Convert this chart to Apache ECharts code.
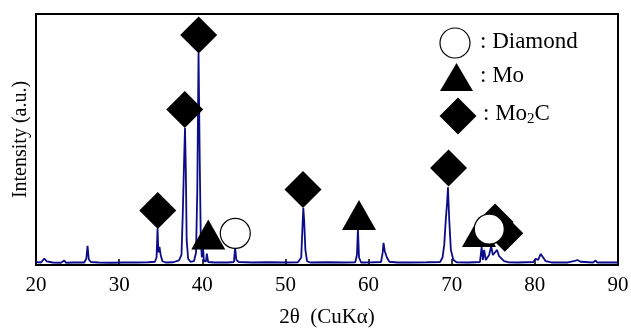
<!DOCTYPE html>
<html>
<head>
<meta charset="utf-8">
<script src="https://cdn.jsdelivr.net/npm/echarts@6/dist/echarts.min.js"></script>
<style>
  html, body { margin: 0; padding: 0; background: #fff; }
  #main { width: 631px; height: 331px; }
</style>
</head>
<body>
<div id="main"></div>
<script>
// XRD pattern: [2theta, intensity (a.u.)]
const spectrum = [
  [20.0,1.2],[20.6,1.0],[21.0,2.6],[21.3,1.4],[22.0,1.0],[23.0,0.9],[23.4,1.8],[23.6,0.9],
  [24.5,1.0],[25.8,1.0],[26.05,2.5],[26.2,7.6],[26.35,2.2],[26.6,1.2],[27.5,1.0],[29,0.9],
  [30.5,1.0],[32,1.0],[33.5,1.1],[34.3,1.3],[34.5,3],[34.62,14.6],[34.72,5],[34.85,7.2],
  [35.0,4],[35.2,1.5],[35.6,1.0],[36.5,1.1],[37.2,1.8],[37.5,4],[37.65,20],[37.8,40],
  [37.92,54.6],[38.02,38],[38.12,10],[38.3,2.5],[38.6,1.2],[39.0,1.5],[39.25,5],[39.4,30],
  [39.55,84.5],[39.7,40],[39.82,10],[39.95,3],[40.1,6.5],[40.2,1.5],[40.45,1.5],[40.55,4.5],
  [40.7,1.2],[41.5,1.0],[43,1.0],[43.8,1.2],[43.95,6.8],[44.1,2],[44.4,1.2],[46,1.0],
  [48,1.1],[50,1.0],[51.5,1.1],[51.9,3],[52.05,15],[52.15,22.7],[52.25,18],[52.4,6],
  [52.6,1.5],[53,1.0],[55,1.1],[57,1.0],[58.4,1.1],[58.6,4],[58.72,14.3],[58.85,3],
  [59.1,1.0],[60.5,1.1],[61.5,1.2],[61.7,5],[61.8,8.8],[61.95,5.5],[62.2,3],[62.5,1.3],
  [63.5,1.0],[65,1.0],[67,1.1],[68.6,1.2],[68.9,3],[69.1,8],[69.3,18.7],[69.45,25],
  [69.55,31],[69.7,18],[69.9,6],[70.2,2],[70.6,1.1],[72,1.0],[73.4,1.2],[73.6,7.2],
  [73.75,2],[73.9,6],[74.1,2],[74.5,4],[74.75,7.5],[74.95,4],[75.2,5],[75.45,6],
  [75.7,3.5],[76.0,2.5],[76.3,1.5],[76.8,1.1],[78,1.0],[79.8,1.2],[80.1,2.5],[80.4,2],
  [80.7,4.4],[81.0,3],[81.3,1.5],[82,1.0],[84,1.0],[84.8,1.6],[85.1,2.0],[85.5,1.3],
  [87,1.0],[87.3,1.8],[87.5,1.0],[89,1.0],[90,1.0]
];

// phase markers placed above the peaks
const mo2cMarks = [[34.64,21.7],[37.89,62.0],[39.57,91.6],[52.11,30.1],[69.62,38.6],[75.21,17.1],[76.39,12.6]];
const moMarks = [[40.72,12.2],[58.85,19.9],[73.28,13.1]];
const diamondMarks = [[43.97,12.6],[74.52,14.3]];

const xTicks = [20, 30, 40, 50, 60, 70, 80, 90];

const serif = '"Liberation Serif", "DejaVu Serif", serif';

const chart = echarts.init(document.getElementById('main'));

chart.setOption({
  animation: false,
  grid: {
    left: 36, right: 13, top: 14, bottom: 66,
    outerBoundsMode: 'none', containLabel: false,
    show: true, borderColor: '#000', borderWidth: 2, backgroundColor: 'transparent'
  },
  xAxis: {
    type: 'value',
    min: xTicks[0], max: xTicks[xTicks.length - 1], interval: 10,
    name: '2θ  (CuKα)',
    nameLocation: 'middle',
    nameGap: 42,
    nameTextStyle: { fontFamily: serif, fontSize: 21, color: '#000' },
    axisLine: { show: true, lineStyle: { color: '#000', width: 2 } },
    axisTick: { show: true, inside: true, length: 6, lineStyle: { color: '#000', width: 1.5 } },
    axisLabel: { fontFamily: serif, fontSize: 21, color: '#000', margin: 10 },
    splitLine: { show: false }
  },
  yAxis: {
    type: 'value',
    min: 0, max: 100,
    name: 'Intensity (a.u.)',
    nameLocation: 'middle',
    nameGap: 5,
    nameTextStyle: { fontFamily: serif, fontSize: 20, color: '#000' },
    axisLine: { show: false },
    axisTick: { show: false },
    axisLabel: { show: false },
    splitLine: { show: false }
  },
  series: [
    {
      type: 'line',
      data: spectrum,
      showSymbol: false,
      lineStyle: { color: '#0c0c8a', width: 1.8 },
      emphasis: { disabled: true },
      z: 2
    },
    {
      type: 'scatter',
      data: mo2cMarks,
      symbol: 'diamond',
      symbolSize: 37,
      itemStyle: { color: '#000', opacity: 1 },
      emphasis: { disabled: true },
      z: 3
    },
    {
      type: 'scatter',
      data: moMarks,
      symbol: 'triangle',
      symbolSize: [34, 30],
      itemStyle: { color: '#000', opacity: 1 },
      emphasis: { disabled: true },
      z: 4
    },
    {
      type: 'scatter',
      data: diamondMarks,
      symbol: 'circle',
      symbolSize: 30,
      itemStyle: { color: '#fff', borderColor: '#000', borderWidth: 1.2, opacity: 1 },
      emphasis: { disabled: true },
      z: 5
    }
  ],
  graphic: [
    { type: 'circle', shape: { cx: 455, cy: 43, r: 15 }, style: { fill: '#fff', stroke: '#000', lineWidth: 1.2 }, z: 10 },
    { type: 'polygon', shape: { points: [[456.5, 63], [473, 91], [440, 91]] }, style: { fill: '#000' }, z: 10 },
    { type: 'polygon', shape: { points: [[458, 97.5], [476.5, 116], [458, 134.5], [439.5, 116]] }, style: { fill: '#000' }, z: 10 },
    { type: 'text', left: 480, top: 30, style: { text: ': Diamond', font: '23px ' + serif, fill: '#000' }, z: 10 },
    { type: 'text', left: 480, top: 64, style: { text: ': Mo', font: '23px ' + serif, fill: '#000' }, z: 10 },
    {
      type: 'text', left: 483, top: 102, z: 10,
      style: {
        text: '{n|: Mo}{s|2}{n|C}',
        rich: {
          n: { fontFamily: serif, fontSize: 23, color: '#000' },
          s: { fontFamily: serif, fontSize: 15, color: '#000', padding: [11, 0, 0, 0] }
        }
      }
    }
  ]
});
</script>
</body>
</html>
